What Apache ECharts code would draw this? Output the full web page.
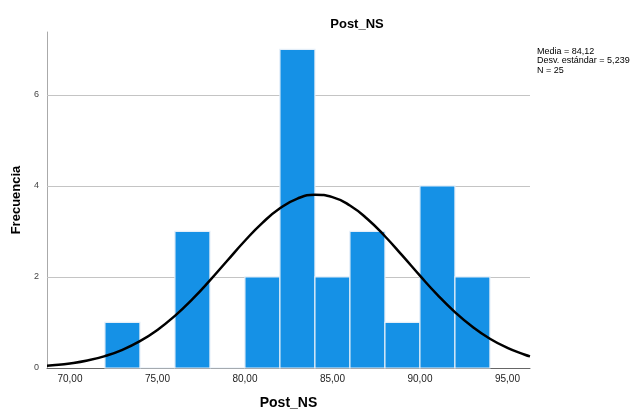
<!DOCTYPE html>
<html>
<head>
<meta charset="utf-8">
<script src="https://cdn.jsdelivr.net/npm/echarts@6/dist/echarts.min.js"></script>
<style>
html,body{margin:0;padding:0;background:#fff;}
#c{width:631px;height:409px;}
</style>
</head>
<body>
<div id="c"></div>
<script>
// Histogram bins (lower edge, upper edge) and frequencies
const binStart = [72, 74, 76, 78, 80, 82, 84, 86, 88, 90, 92];
const binEnd   = [74, 76, 78, 80, 82, 84, 86, 88, 90, 92, 94];
const freq     = [1, 0, 3, 0, 2, 7, 2, 3, 1, 4, 2];
// Normal curve points (mean 84,12, sd 5,239, N 25)
const curveX = [68.69, 69, 70, 71, 72, 73, 74, 75, 76, 77, 78, 79, 80, 81, 82, 83, 84, 85, 86, 87, 88, 89, 90, 91, 92, 93, 94, 95, 96, 96.29];
const curveY = [0.05, 0.059, 0.101, 0.165, 0.262, 0.40, 0.589, 0.837, 1.146, 1.512, 1.924, 2.361, 2.795, 3.188, 3.508, 3.721, 3.806, 3.754, 3.569, 3.273, 2.894, 2.467, 2.028, 1.607, 1.228, 0.905, 0.643, 0.441, 0.291, 0.255];
const xTicks = [70, 75, 80, 85, 90, 95];
const yLabels = [0, 2, 4, 6];
const yGrid = [2, 4, 6];
const statsLines = ['Media = 84,12', 'Desv. estándar = 5,239', 'N = 25'];

const chart = echarts.init(document.getElementById('c'), null, {renderer: 'canvas'});
const FONT = '"Liberation Sans", Arial, sans-serif';

const binData = binStart.map((s, i) => [s, binEnd[i], freq[i]]);
const curveData = curveX.map((x, i) => [x, curveY[i]]);

chart.setOption({
  animation: false,
  backgroundColor: '#ffffff',
  title: {
    text: 'Post_NS',
    left: 352, top: 13,
    textAlign: 'center',
    textStyle: {fontFamily: FONT, fontSize: 13, fontWeight: 'bold', color: '#000'}
  },
  grid: {left: 47, right: 101, top: 32, bottom: 41, containLabel: false, outerBoundsMode: 'none'},
  xAxis: {
    type: 'value',
    min: 68.69, max: 96.29,
    name: 'Post_NS', nameLocation: 'middle', nameGap: 28,
    nameTextStyle: {fontFamily: FONT, fontSize: 14, fontWeight: 'bold', color: '#000'},
    axisLine: {show: true, lineStyle: {color: '#666', width: 1}},
    axisTick: {show: false},
    splitLine: {show: false},
    axisLabel: {
      customValues: xTicks,
      fontFamily: FONT, fontSize: 10, color: '#222', margin: 6,
      formatter: v => v.toFixed(2).replace('.', ',')
    }
  },
  yAxis: {
    type: 'value',
    min: 0, max: 7.38,
    name: 'Frecuencia', nameLocation: 'middle', nameGap: 14,
    nameTextStyle: {fontFamily: FONT, fontSize: 13, fontWeight: 'bold', color: '#000'},
    axisLine: {show: true, lineStyle: {color: '#aaa', width: 1}},
    axisTick: {show: false},
    splitLine: {show: false},
    axisLabel: {
      customValues: yLabels,
      fontFamily: FONT, fontSize: 9, color: '#444', margin: 8,
      formatter: v => String(v)
    }
  },
  series: [
    {
      type: 'line',
      data: [],
      z: 1,
      silent: true,
      markLine: {
        silent: true, symbol: 'none', z: 1,
        label: {show: false},
        lineStyle: {color: '#c4c4c4', width: 1, type: 'solid'},
        data: yGrid.map(v => ({yAxis: v}))
      }
    },
    {
      type: 'custom',
      z: 3,
      data: binData,
      renderItem: function (params, api) {
        const p0 = api.coord([api.value(0), api.value(2)]);
        const p1 = api.coord([api.value(1), 0]);
        return {
          type: 'rect',
          shape: {x: p0[0], y: p0[1], width: p1[0] - p0[0], height: p1[1] - p0[1]},
          style: {fill: '#1591e6', stroke: '#e4eef8', lineWidth: 1.2}
        };
      },
      encode: {x: [0, 1], y: 2}
    },
    {
      type: 'line',
      z: 4,
      data: curveData,
      smooth: true,
      showSymbol: false,
      clip: true,
      lineStyle: {color: '#000', width: 2.5}
    }
  ],
  graphic: statsLines.map((t, i) => ({
    type: 'text',
    left: 537, top: 47 + i * 9.5,
    style: {text: t, font: '9px ' + FONT, fill: '#000'}
  }))
});
</script>
</body>
</html>
